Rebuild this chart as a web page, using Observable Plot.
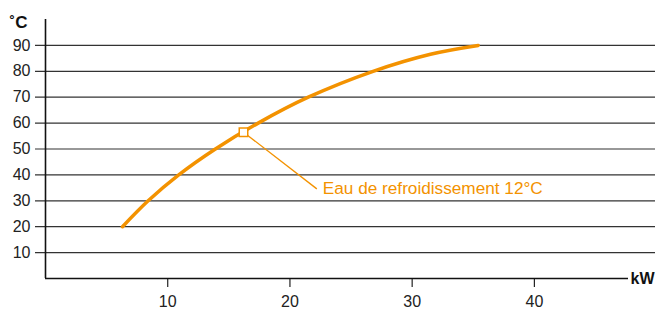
<!DOCTYPE html>
<html>
<head>
<meta charset="utf-8">
<script src="https://cdn.jsdelivr.net/npm/d3@7"></script>
<script src="https://cdn.jsdelivr.net/npm/@observablehq/plot@0.6"></script>
<style>
  html, body { margin: 0; padding: 0; background: #fff; }
  #chart svg { display: block; }
</style>
</head>
<body>
<div id="chart"></div>
<script>
// Data
const curveKW   = [6.3, 8.4, 10.9, 13.9, 17.4, 21.5, 26.8, 31.5, 35.4];
const curveTemp = [20, 30, 40, 50, 60, 70, 80, 86.6, 90];
const markerKW = 16.2;
const markerTemp = 56.5;
const labelKW = 22.2;
const labelTemp = 34.6;
const labelText = "Eau de refroidissement 12°C";
const xTicks = [10, 20, 30, 40];
const yTicks = [10, 20, 30, 40, 50, 60, 70, 80, 90];
const xMax = 47.7;
const yMax = 100;
const yUnit = "˚C";
const xUnit = "kW";

const orange = "#f39200";
const curve = curveKW.map((x, i) => ({x, y: curveTemp[i]}));
const marker = [{x: markerKW, y: markerTemp, x2: labelKW, y2: labelTemp}];

const chart = Plot.plot({
  width: 655,
  height: 309,
  marginLeft: 45,
  marginRight: 27,
  marginTop: 19,
  marginBottom: 31,
  style: {fontFamily: "'Liberation Sans', Arial, Helvetica, sans-serif", fontSize: "16px", color: "#222", background: "#fff"},
  x: {domain: [0, xMax]},
  y: {domain: [0, yMax]},
  marks: [
    Plot.ruleY(yTicks, {stroke: "#333", strokeWidth: 1.2, insetLeft: -10, insetRight: -27}),
    Plot.axisY({ticks: yTicks, tickSize: 0, tickPadding: 15, label: null, fontSize: 16}),
    Plot.axisX({ticks: xTicks, tickSize: 9, tickPadding: 8, label: null, fontSize: 16, strokeWidth: 1.2}),
    Plot.ruleX([0], {stroke: "#111", strokeWidth: 1.6}),
    Plot.ruleY([0], {stroke: "#111", strokeWidth: 1.6}),
    Plot.line(curve, {x: "x", y: "y", curve: "catmull-rom", stroke: orange, strokeWidth: 3.5}),
    Plot.link(marker, {x1: "x", y1: "y", x2: "x2", y2: "y2", stroke: orange, strokeWidth: 1.3}),
    Plot.dot(marker, {x: "x", y: "y", symbol: "square", r: 4.8, stroke: orange, fill: "white", strokeWidth: 1.5}),
    Plot.text(marker, {x: "x2", y: "y2", text: () => labelText, textAnchor: "start", lineAnchor: "middle", dx: 6, fill: orange, fontSize: 17.2}),
    Plot.text([yUnit], {frameAnchor: "top-left", textAnchor: "start", lineAnchor: "bottom", dx: -36, dy: 8, fontWeight: "bold", fontSize: 17, fill: "#111"}),
    Plot.text([xUnit], {frameAnchor: "bottom-right", textAnchor: "start", lineAnchor: "middle", dx: 2, fontWeight: "bold", fontSize: 16, fill: "#111"})
  ]
});
document.getElementById("chart").appendChild(chart);
</script>
</body>
</html>
